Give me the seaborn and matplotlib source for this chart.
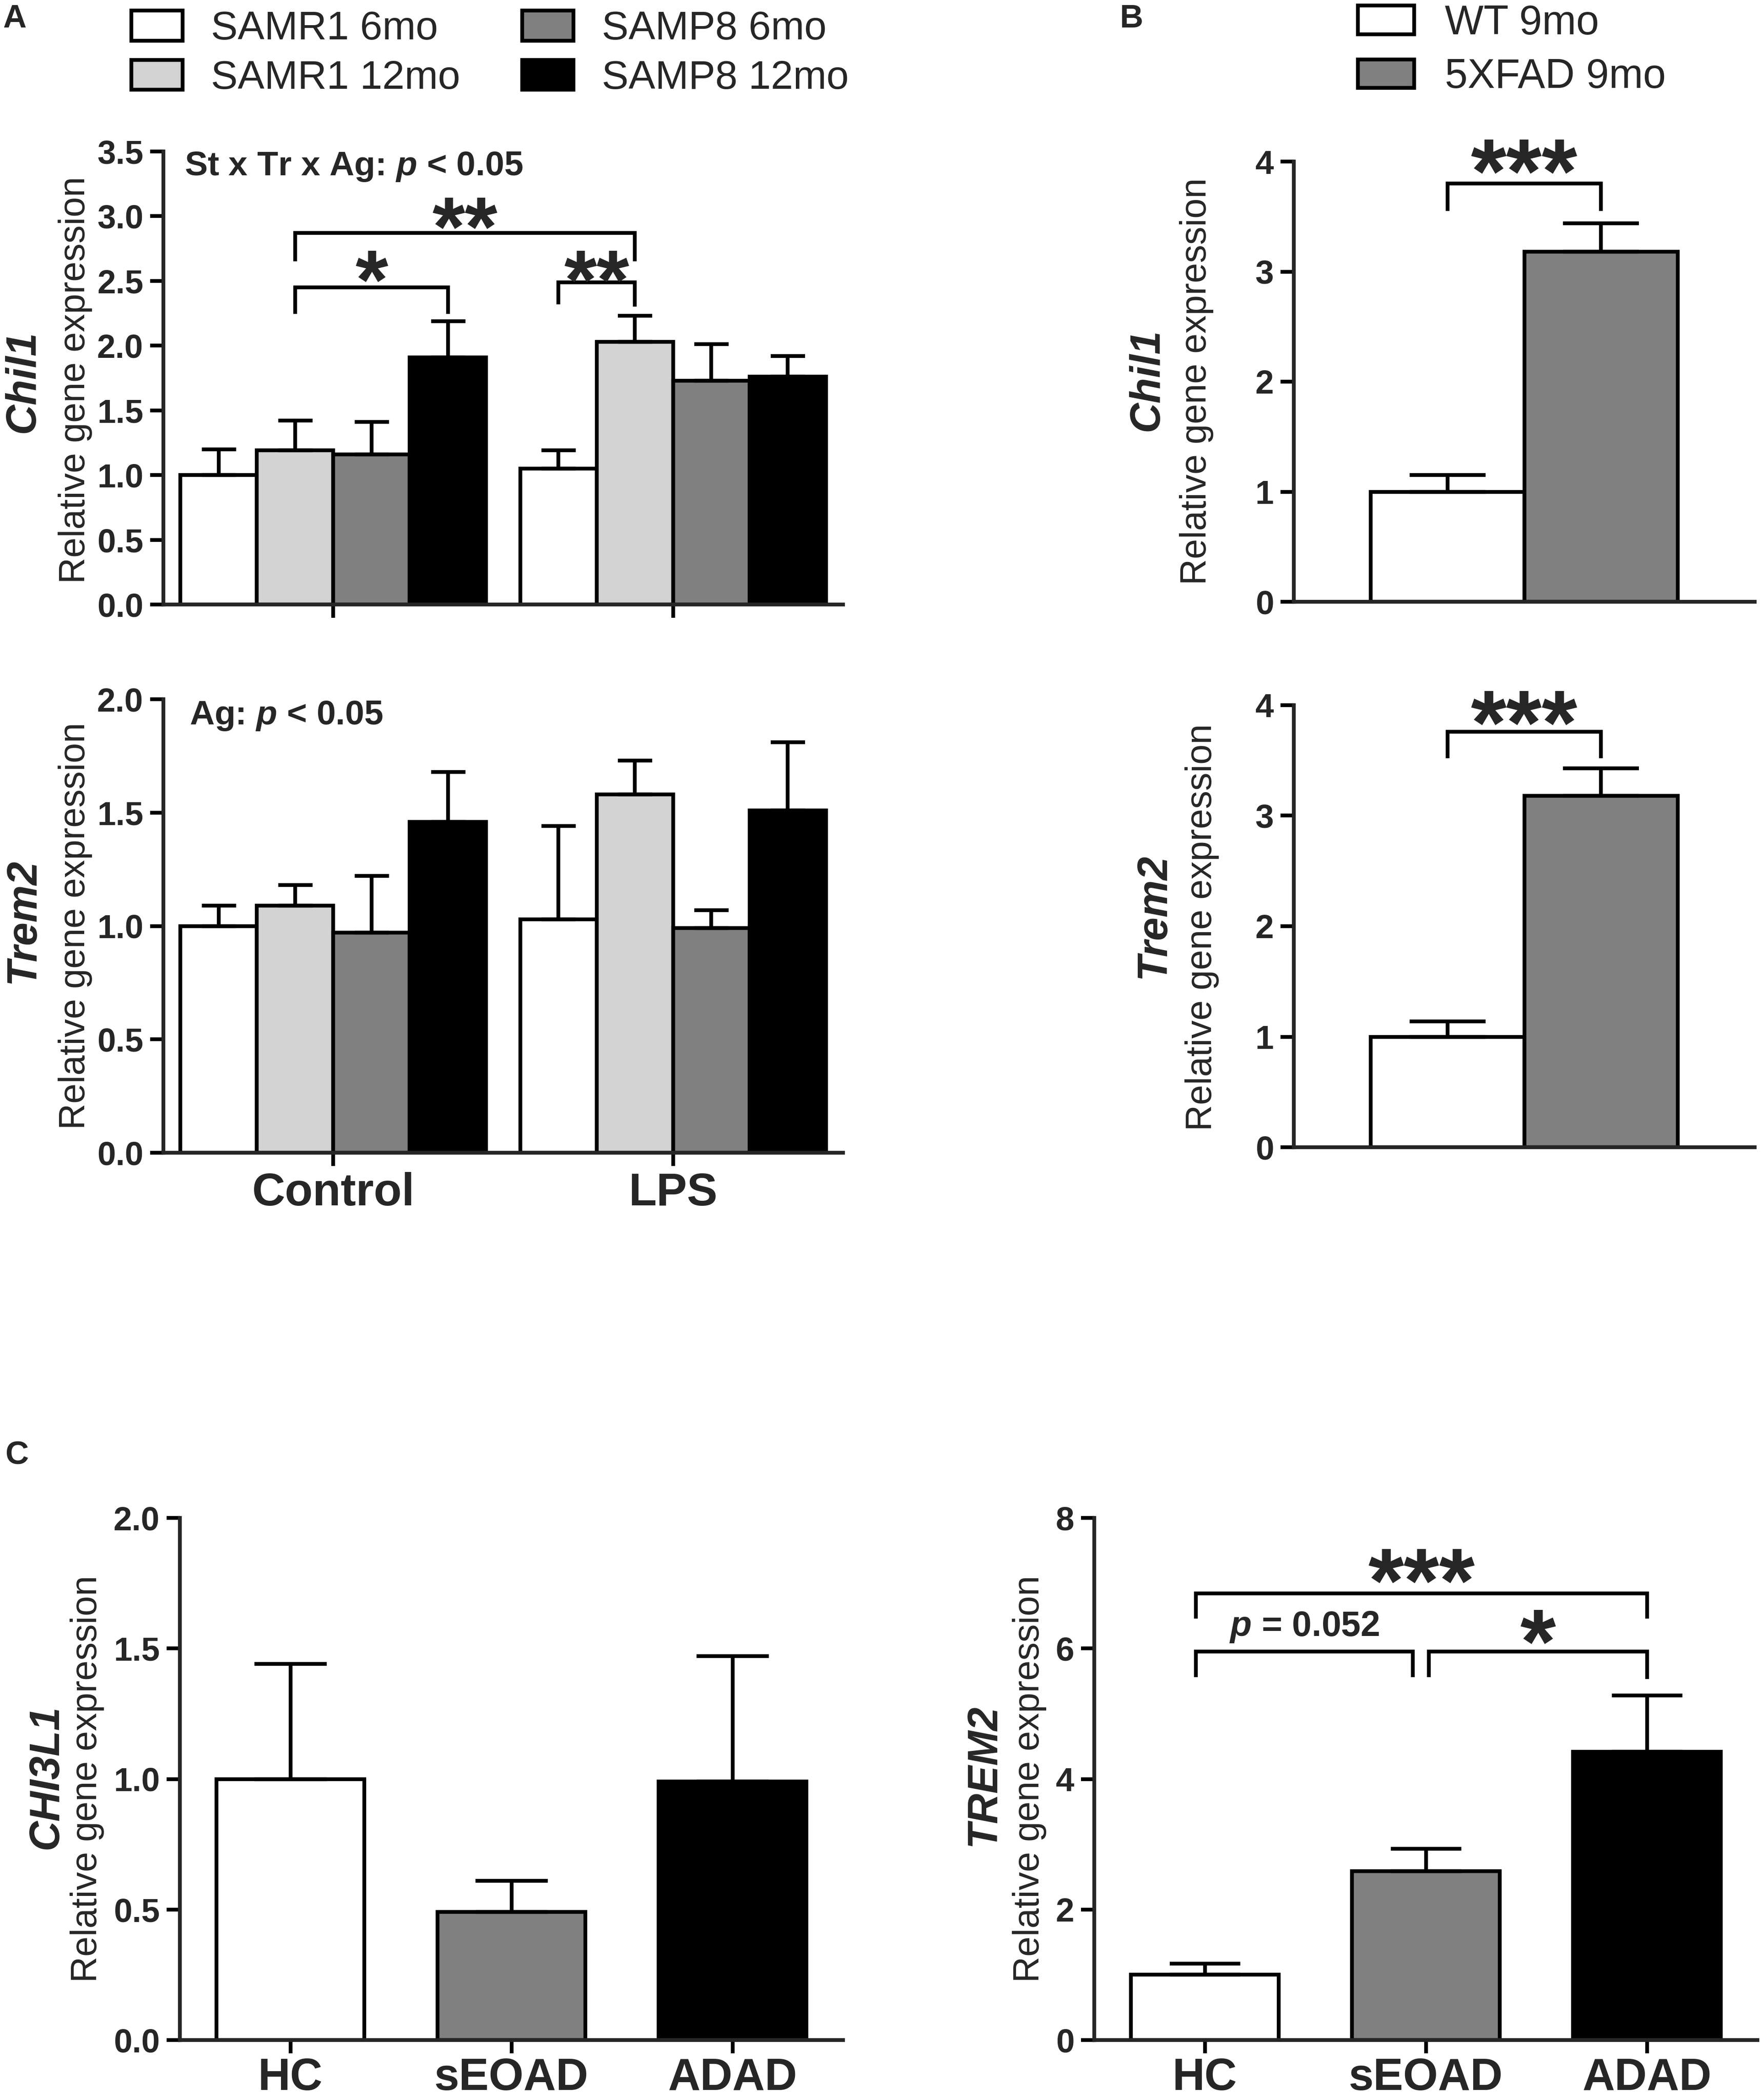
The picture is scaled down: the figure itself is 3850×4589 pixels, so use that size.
import numpy as np
import pandas as pd
import matplotlib
matplotlib.use("Agg")
import matplotlib.pyplot as plt
import seaborn as sns
from matplotlib.container import BarContainer
from matplotlib.ticker import FormatStrFormatter, MultipleLocator

# ---------------- data ----------------
treatments_A = ["Control", "LPS"]
groups_A = ["SAMR1 6mo", "SAMR1 12mo", "SAMP8 6mo", "SAMP8 12mo"]
chil1_A_control = [1.00, 1.19, 1.16, 1.91]
chil1_A_lps = [1.05, 2.03, 1.73, 1.76]
chil1_A_control_sem = [0.20, 0.23, 0.25, 0.28]
chil1_A_lps_sem = [0.14, 0.20, 0.28, 0.16]
trem2_A_control = [1.00, 1.09, 0.97, 1.46]
trem2_A_lps = [1.03, 1.58, 0.99, 1.51]
trem2_A_control_sem = [0.09, 0.09, 0.25, 0.22]
trem2_A_lps_sem = [0.41, 0.15, 0.08, 0.30]

age_B = ["9mo"]
groups_B = ["WT 9mo", "5XFAD 9mo"]
chil1_B = [1.00, 3.18]
chil1_B_sem = [0.15, 0.26]
trem2_B = [1.00, 3.18]
trem2_B_sem = [0.14, 0.25]

groups_C = ["HC", "sEOAD", "ADAD"]
chi3l1_C = [1.00, 0.49, 0.99]
chi3l1_C_sem = [0.44, 0.12, 0.48]
trem2_C = [1.00, 2.59, 4.42]
trem2_C_sem = [0.17, 0.34, 0.86]

pal_A = dict(zip(groups_A, ["#ffffff", "#d3d3d3", "#808080", "#000000"]))
pal_B = dict(zip(groups_B, ["#ffffff", "#808080"]))
pal_C = dict(zip(groups_C, ["#ffffff", "#808080", "#000000"]))

# ---------------- style ----------------
sns.set_style("ticks")
SANS = ["Liberation Sans", "DejaVu Sans"]
plt.rcParams["font.family"] = SANS
plt.rcParams["font.weight"] = "bold"
plt.rcParams["mathtext.fontset"] = "custom"
plt.rcParams["mathtext.it"] = "Liberation Sans:italic:bold"
plt.rcParams["mathtext.rm"] = "Liberation Sans:bold"
LW = 2.0
TICK_FS = 17.5
ANN_FS = 18

W, H = 3850, 4589
fig = plt.figure(figsize=(W / 300, H / 300), dpi=300)


def px_axes(l, r, t, b):
    return fig.add_axes([l / W, 1 - b / H, (r - l) / W, (b - t) / H])


def make_df(xcol, xvals, hcol, hvals, means, sems):
    rows = []
    for xv, m_list, s_list in zip(xvals, means, sems):
        for hv, m, s in zip(hvals, m_list, s_list):
            rows.append({xcol: xv, hcol: hv, "value": m, "sem": s})
    return pd.DataFrame(rows)


def bars(ax, df, x, hue, order, hue_order, palette, width, capsize):
    sns.barplot(data=df, x=x, y="value", hue=hue, order=order, hue_order=hue_order,
                palette=palette, edgecolor="black", linewidth=LW, width=width,
                errorbar=None, legend=False, saturation=1, ax=ax)
    conts = [c for c in ax.containers if isinstance(c, BarContainer)]
    centers = {}
    for h, cont in zip(hue_order, conts):
        for patch in cont.patches:
            cx = patch.get_x() + patch.get_width() / 2
            xi = order[int(round(cx))]
            ht = patch.get_height()
            err = df[(df[x] == xi) & (df[hue] == h)]["sem"].iloc[0]
            ax.errorbar([cx], [ht], yerr=[[0], [err]], fmt="none", ecolor="black",
                        elinewidth=LW, capsize=capsize, capthick=LW)
            centers[(xi, h)] = cx
    return conts, centers


def style_axes(ax, ylim, step, fmt):
    ax.set_ylim(*ylim)
    ax.yaxis.set_major_locator(MultipleLocator(step))
    ax.yaxis.set_major_formatter(FormatStrFormatter(fmt))
    ax.set_xlabel("")
    ax.set_ylabel("")
    sns.despine(ax=ax)
    for sp in ["left", "bottom"]:
        ax.spines[sp].set_linewidth(LW)
    ax.tick_params(axis="both", width=LW, length=7, direction="out", color="black")
    ax.tick_params(axis="y", labelsize=TICK_FS, pad=3.5)
    for lbl in ax.get_yticklabels():
        lbl.set_fontweight("bold")


def xlabels(ax, size, pad):
    ax.tick_params(axis="x", labelsize=size, pad=pad)
    for lbl in ax.get_xticklabels():
        lbl.set_fontweight("bold")


def bracket(ax, x1, x2, y, yl1, yl2):
    ax.plot([x1, x1, x2, x2], [yl1, y, y, yl2], color="black", lw=LW,
            solid_capstyle="butt", solid_joinstyle="miter", clip_on=False)


def stars(ax, x, ycenter, text, fs=44):
    ax.annotate(text, xy=(x, ycenter), xytext=(0, -0.47 * fs), textcoords="offset points",
                ha="center", va="baseline", fontsize=fs, fontweight="bold",
                annotation_clip=False)


def ylab(x_gene, y_gene, x_rel, y_rel, gene):
    fig.text(x_gene, y_gene, gene, rotation=90, ha="center", va="center", fontsize=22,
             fontweight="bold", fontstyle="italic")
    fig.text(x_rel, y_rel, "Relative gene expression", rotation=90, ha="center",
             va="center", fontsize=19, fontweight="normal")


# ---------------- Panel A top: Chil1 ----------------
axA1 = px_axes(357, 1842, 331, 1321)
dfA1 = make_df("treatment", treatments_A, "group", groups_A,
               [chil1_A_control, chil1_A_lps], [chil1_A_control_sem, chil1_A_lps_sem])
contsA, cA1 = bars(axA1, dfA1, "treatment", "group", treatments_A, groups_A, pal_A, 0.9, 9)
axA1.set_xlim(-0.5, 1.5)
style_axes(axA1, (0, 3.5), 0.5, "%.1f")
axA1.tick_params(axis="x", labelbottom=False)
axA1.text(-0.438, 3.316, r"St x Tr x Ag: $p$ < 0.05", fontsize=ANN_FS, fontweight="bold",
          ha="left", va="baseline")
xa = cA1[("Control", "SAMR1 12mo")]
xb = cA1[("Control", "SAMP8 12mo")]
xc = cA1[("LPS", "SAMR1 6mo")]
xd = cA1[("LPS", "SAMR1 12mo")]
bracket(axA1, xa, xb, 2.45, 2.245, 2.245)
stars(axA1, (xa + xb) / 2, 2.59, "*")
bracket(axA1, xa, xd, 2.87, 2.65, 2.65)
stars(axA1, (xa + xd) / 2, 3.00, "**")
bracket(axA1, xc, xd, 2.49, 2.32, 2.30)
stars(axA1, (xc + xd) / 2, 2.59, "**")
ylab(0.013, 0.8183, 0.0426, 0.8190, "Chil1")

# ---------------- Panel A bottom: Trem2 ----------------
axA2 = px_axes(357, 1842, 1528, 2519)
dfA2 = make_df("treatment", treatments_A, "group", groups_A,
               [trem2_A_control, trem2_A_lps], [trem2_A_control_sem, trem2_A_lps_sem])
bars(axA2, dfA2, "treatment", "group", treatments_A, groups_A, pal_A, 0.9, 9)
axA2.set_xlim(-0.5, 1.5)
style_axes(axA2, (0, 2.0), 0.5, "%.1f")
xlabels(axA2, 24, 3)
axA2.text(-0.423, 1.889, r"Ag: $p$ < 0.05", fontsize=ANN_FS, fontweight="bold",
          ha="left", va="baseline")
ylab(0.013, 0.5616, 0.0426, 0.5590, "Trem2")

fig.legend(handles=contsA, labels=groups_A, loc="upper left", bbox_to_anchor=(0.0745, 0.995),
           ncol=2, frameon=False, prop=dict(family=SANS, weight="normal", size=21),
           handlelength=1.28, handleheight=0.78, handletextpad=0.71, columnspacing=1.55,
           labelspacing=0.3, borderpad=0, borderaxespad=0)

# ---------------- Panel B top: Chil1 ----------------
axB1 = px_axes(2827, 3834, 353, 1315)
dfB1 = make_df("age", age_B, "group", groups_B, [chil1_B], [chil1_B_sem])
contsB, cB1 = bars(axB1, dfB1, "age", "group", age_B, groups_B, pal_B, 0.667, 20)
axB1.set_xlim(-0.5, 0.5)
style_axes(axB1, (0, 4), 1, "%d")
axB1.set_xticks([])
x1, x2 = cB1[("9mo", "WT 9mo")], cB1[("9mo", "5XFAD 9mo")]
bracket(axB1, x1, x2, 3.80, 3.55, 3.55)
stars(axB1, (x1 + x2) / 2, 4.02, "***", fs=48)
ylab(0.651, 0.8191, 0.679, 0.8185, "Chil1")

fig.legend(handles=contsB, labels=groups_B, loc="upper left", bbox_to_anchor=(0.7706, 0.998),
           ncol=1, frameon=False, prop=dict(family=SANS, weight="normal", size=21.5),
           handlelength=1.37, handleheight=0.7, handletextpad=0.75,
           labelspacing=0.36, borderpad=0, borderaxespad=0)

# ---------------- Panel B bottom: Trem2 ----------------
axB2 = px_axes(2827, 3834, 1541, 2507)
dfB2 = make_df("age", age_B, "group", groups_B, [trem2_B], [trem2_B_sem])
_, cB2 = bars(axB2, dfB2, "age", "group", age_B, groups_B, pal_B, 0.667, 20)
axB2.set_xlim(-0.5, 0.5)
style_axes(axB2, (0, 4), 1, "%d")
axB2.set_xticks([])
x1, x2 = cB2[("9mo", "WT 9mo")], cB2[("9mo", "5XFAD 9mo")]
bracket(axB2, x1, x2, 3.76, 3.52, 3.52)
stars(axB2, (x1 + x2) / 2, 3.95, "***", fs=48)
ylab(0.6546, 0.5640, 0.6823, 0.5585, "Trem2")

# ---------------- Panel C left: CHI3L1 ----------------
axC1 = px_axes(393, 1842, 3317, 4458)
dfC1 = pd.DataFrame({"dx": groups_C, "grp": groups_C, "value": chi3l1_C, "sem": chi3l1_C_sem})
bars(axC1, dfC1, "dx", "grp", groups_C, groups_C, pal_C, 0.667, 19)
axC1.set_xlim(-0.5, 2.5)
style_axes(axC1, (0, 2.0), 0.5, "%.1f")
xlabels(axC1, 23.5, 2)
ylab(0.0263, 0.1538, 0.0494, 0.1528, "CHI3L1")

# ---------------- Panel C right: TREM2 ----------------
axC2 = px_axes(2391, 3840, 3317, 4458)
dfC2 = pd.DataFrame({"dx": groups_C, "grp": groups_C, "value": trem2_C, "sem": trem2_C_sem})
_, cC2 = bars(axC2, dfC2, "dx", "grp", groups_C, groups_C, pal_C, 0.667, 18.5)
axC2.set_xlim(-0.5, 2.5)
style_axes(axC2, (0, 8), 2, "%d")
xlabels(axC2, 23.5, 2)
hc, se, ad = cC2[("HC", "HC")], cC2[("sEOAD", "sEOAD")], cC2[("ADAD", "ADAD")]
bracket(axC2, hc - 0.04, ad, 6.84, 6.46, 6.46)
stars(axC2, (hc - 0.04 + ad) / 2, 7.22, "***", fs=48)
bracket(axC2, hc - 0.04, se - 0.06, 5.95, 5.56, 5.56)
axC2.text((hc - 0.04 + se - 0.06) / 2, 6.19, r"$p$ = 0.052", fontsize=18.5,
          fontweight="bold", ha="center", va="baseline")
bracket(axC2, se + 0.013, ad, 5.95, 5.56, 5.53)
stars(axC2, (se + 0.013 + ad) / 2, 6.29, "*", fs=48)
ylab(0.5584, 0.1547, 0.5844, 0.1528, "TREM2")

# ---------------- panel letters ----------------
for (lx, ly, letter) in [(0.0016, 0.998, "A"), (0.6353, 0.998, "B"), (0.003, 0.314, "C")]:
    fig.text(lx, ly, letter, fontsize=17, fontweight="bold", ha="left", va="top")

fig.savefig("out.png", dpi=300)
